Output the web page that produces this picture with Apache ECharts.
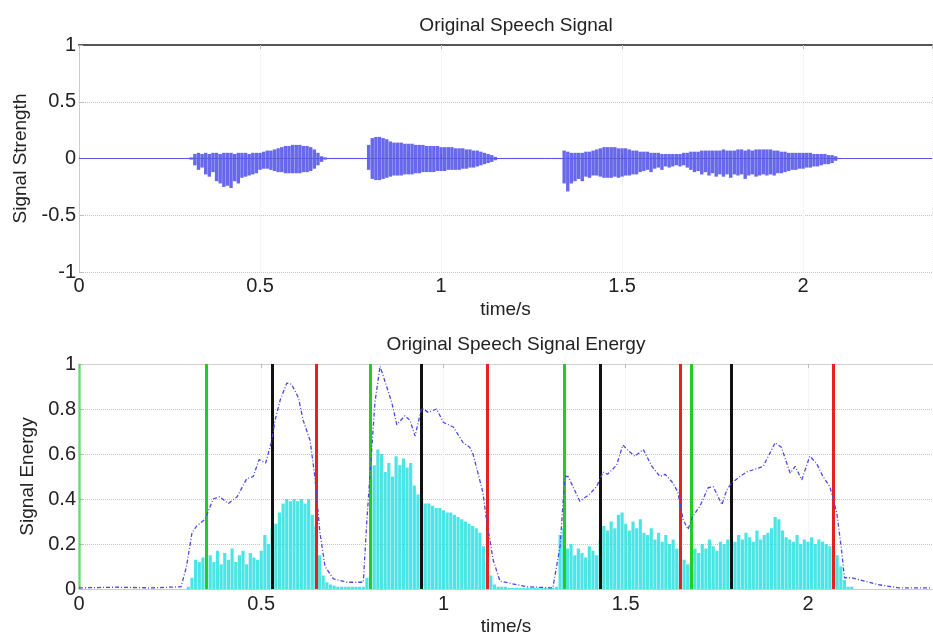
<!DOCTYPE html>
<html>
<head>
<meta charset="utf-8">
<script src="https://cdn.jsdelivr.net/npm/echarts@6/dist/echarts.min.js"></script>
<style>html,body{margin:0;padding:0;background:#fff}#c{width:933px;height:637px}</style>
</head>
<body>
<div id="c"></div>
<script>
// ---- Top chart: speech waveform envelope (sampled every 0.01 s starting at 0.30 s) ----
const sigStart = 0.30;
const sigStep = 0.01;
const sigHi = [
  .005,.01,.04,.05,.04,.05,.04,.05,.05,.04,
  .05,.05,.05,.04,.05,.05,.05,.04,.05,.05,
  .05,.06,.07,.07,.08,.09,.10,.11,.11,.12,
  .12,.12,.11,.11,.10,.08,.05,.02,.01,.005,
  .005,.005,.005,.005,.005,.005,.005,.005,.005,.005,
  .12,.18,.19,.19,.18,.17,.15,.14,.14,.14,
  .13,.13,.13,.12,.12,.12,.11,.11,.11,.11,
  .10,.10,.10,.10,.09,.09,.09,.08,.08,.07,
  .07,.06,.05,.04,.03,.015,.005,.005,.005,.005,
  .005,.005,.005,.005,.005,.005,.005,.005,.005,.005,
  .005,.005,.005,.005,.07,.06,.05,.05,.05,.05,
  .06,.06,.07,.08,.09,.10,.10,.10,.10,.09,
  .09,.09,.08,.07,.07,.06,.06,.06,.05,.05,
  .05,.04,.04,.04,.04,.04,.04,.05,.05,.06,
  .06,.06,.07,.07,.07,.07,.07,.07,.08,.07,
  .07,.07,.08,.08,.07,.08,.07,.08,.08,.08,
  .08,.08,.07,.07,.06,.06,.05,.05,.05,.05,
  .05,.05,.05,.04,.04,.04,.04,.03,.03,.02,
  .005
];
const sigLo = [
  -.005,-.01,-.06,-.10,-.08,-.14,-.16,-.12,-.20,-.22,
  -.25,-.24,-.26,-.20,-.22,-.17,-.16,-.15,-.14,-.13,
  -.10,-.09,-.09,-.10,-.11,-.12,-.12,-.13,-.13,-.13,
  -.13,-.13,-.12,-.12,-.11,-.09,-.06,-.03,-.01,-.005,
  -.005,-.005,-.005,-.005,-.005,-.005,-.005,-.005,-.005,-.005,
  -.10,-.18,-.19,-.19,-.18,-.17,-.16,-.15,-.15,-.15,
  -.14,-.14,-.14,-.13,-.13,-.12,-.12,-.12,-.12,-.11,
  -.11,-.11,-.10,-.10,-.10,-.10,-.09,-.09,-.08,-.08,
  -.07,-.06,-.05,-.04,-.03,-.015,-.005,-.005,-.005,-.005,
  -.005,-.005,-.005,-.005,-.005,-.005,-.005,-.005,-.005,-.005,
  -.005,-.005,-.005,-.005,-.22,-.29,-.22,-.20,-.18,-.20,
  -.16,-.17,-.15,-.15,-.16,-.17,-.17,-.17,-.16,-.17,
  -.16,-.15,-.15,-.14,-.14,-.12,-.11,-.10,-.12,-.09,
  -.08,-.10,-.07,-.08,-.07,-.06,-.07,-.06,-.08,-.10,
  -.12,-.11,-.14,-.12,-.15,-.13,-.16,-.14,-.16,-.14,
  -.17,-.14,-.15,-.14,-.18,-.15,-.14,-.16,-.15,-.14,
  -.15,-.14,-.15,-.13,-.13,-.12,-.11,-.10,-.10,-.09,
  -.09,-.08,-.08,-.07,-.07,-.06,-.05,-.05,-.04,-.02,
  -.005
];

// ---- Bottom chart: short-time energy (cyan bars, every 0.01 s from 0.30 s) ----
const engStart = 0.30;
const engStep = 0.01;
const engBars = [
  .01,.05,.13,.12,.14,.10,.15,.12,.17,.11,
  .16,.13,.18,.12,.15,.17,.11,.16,.14,.13,
  .17,.24,.20,.27,.29,.34,.38,.40,.39,.40,
  .39,.40,.38,.40,.33,.28,.15,.06,.03,.02,
  .015,.01,.01,.01,.01,.01,.01,.01,.01,.05,
  .50,.55,.62,.60,.52,.56,.50,.59,.55,.58,
  .54,.56,.46,.42,.39,.38,.38,.37,.36,.36,
  .35,.34,.34,.33,.32,.31,.30,.29,.28,.27,
  .25,.19,.12,.06,.02,.01,.01,.01,.005,.005,
  .005,.005,.005,.005,.005,.005,.005,.005,.005,.005,
  .005,.01,.24,.27,.18,.20,.15,.18,.16,.14,
  .19,.17,.15,.22,.28,.26,.30,.27,.33,.34,
  .29,.26,.30,.27,.31,.25,.24,.27,.22,.25,
  .21,.24,.20,.22,.18,.12,.13,.11,.12,.18,
  .16,.20,.18,.22,.19,.17,.21,.20,.22,.24,
  .21,.24,.22,.25,.23,.21,.26,.22,.24,.25,
  .27,.32,.31,.26,.23,.22,.21,.24,.20,.22,
  .21,.23,.20,.22,.21,.20,.19,.18,.15,.10,
  .04,.01,.01
];

// Smoothed energy contour (dash-dot blue line)
const contourT = [0,0.1,0.2,0.28,0.295,0.31,0.323,0.346,0.368,0.386,0.41,0.434,0.46,0.478,0.494,0.512,0.529,0.538,0.552,0.57,0.583,0.602,0.615,0.634,0.647,0.661,0.675,0.698,0.735,0.78,0.79,0.798,0.812,0.826,0.844,0.858,0.872,0.894,0.908,0.922,0.94,0.958,0.981,1.0,1.027,1.054,1.072,1.081,1.108,1.117,1.136,1.155,1.228,1.30,1.32,1.333,1.342,1.374,1.4,1.42,1.438,1.45,1.475,1.492,1.507,1.525,1.548,1.572,1.594,1.608,1.63,1.643,1.657,1.671,1.683,1.704,1.726,1.74,1.764,1.777,1.79,1.813,1.832,1.85,1.877,1.896,1.91,1.927,1.951,1.965,1.983,2.005,2.023,2.041,2.06,2.079,2.093,2.1,2.12,2.19,2.25,2.34];
const contourV = [0.005,0.008,0.005,0.01,0.1,0.25,0.28,0.31,0.40,0.41,0.38,0.41,0.49,0.50,0.575,0.56,0.66,0.75,0.84,0.915,0.91,0.85,0.75,0.66,0.50,0.25,0.10,0.045,0.03,0.03,0.31,0.5,0.83,0.99,0.9,0.83,0.73,0.77,0.75,0.68,0.805,0.785,0.80,0.74,0.72,0.65,0.63,0.6,0.43,0.32,0.13,0.035,0.01,0.005,0.19,0.50,0.5,0.39,0.42,0.455,0.52,0.51,0.55,0.64,0.615,0.59,0.62,0.545,0.50,0.51,0.47,0.43,0.31,0.265,0.32,0.37,0.45,0.455,0.375,0.44,0.47,0.50,0.52,0.53,0.545,0.605,0.65,0.63,0.515,0.545,0.485,0.59,0.56,0.50,0.455,0.34,0.16,0.05,0.05,0.02,0.005,0.005];

// Endpoint detection markers (time in s)
const greenT = [0.003, 0.348, 0.798, 1.331, 1.679];
const blackT = [0.530, 0.938, 1.429, 1.789];
const redT = [0.645, 1.118, 1.645, 2.066];

const FONT = '"Liberation Sans", Arial, Helvetica, sans-serif';
const r3 = v => Math.round(v * 1000) / 1000;

const sigData = sigHi.map((h, i) => [r3(sigStart + i * sigStep), h, sigLo[i]]);
const engData = engBars.map((v, i) => [r3(engStart + i * engStep), v]);
const contourData = contourT.map((t, i) => [t, contourV[i]]);

function xAxisCfg(gridIndex, max, labelMargin) {
  return {
    type: 'value', gridIndex, min: 0, max, interval: 0.5,
    name: 'time/s', nameLocation: 'middle', nameGap: 28,
    nameTextStyle: { fontSize: 19, color: '#222', fontFamily: FONT },
    axisLine: { show: true, lineStyle: { color: '#cccccc', width: 1 } },
    axisTick: { show: true, inside: true, length: 4, lineStyle: { color: '#bbb' } },
    axisLabel: { fontSize: 20, color: '#222', fontFamily: FONT, margin: labelMargin, showMaxLabel: false },
    splitLine: { show: true, lineStyle: { color: '#ececec', type: 'dotted' } }
  };
}
function topBorder(gridIndex, max, color, width) {
  return {
    type: 'value', gridIndex, min: 0, max, interval: 0.5, position: 'top',
    axisLine: { show: true, lineStyle: { color, width } },
    axisTick: { show: true, inside: true, length: 4, lineStyle: { color: '#bbb' } },
    axisLabel: { show: false }, splitLine: { show: false }
  };
}
function yAxisCfg(gridIndex, min, max, interval, name) {
  return {
    type: 'value', gridIndex, min, max, interval,
    name, nameLocation: 'middle', nameGap: 39,
    nameTextStyle: { fontSize: 19, color: '#222', fontFamily: FONT },
    axisLine: { show: true, lineStyle: { color: '#cccccc' } },
    axisTick: { show: true, inside: true, length: 4, lineStyle: { color: '#bbb' } },
    axisLabel: { fontSize: 20, color: '#222', fontFamily: FONT, margin: 3 },
    splitLine: { show: true, lineStyle: { color: '#c4c4c4', type: 'dotted' } }
  };
}

const vLines = [].concat(
  greenT.map((x, i) => ({ xAxis: x, lineStyle: { color: '#22cc22', width: 3, type: 'solid', opacity: i === 0 ? 0.45 : 1 } })),
  blackT.map(x => ({ xAxis: x, lineStyle: { color: '#111111', width: 3, type: 'solid' } })),
  redT.map(x => ({ xAxis: x, lineStyle: { color: '#e82020', width: 3, type: 'solid' } }))
);

const chart = echarts.init(document.getElementById('c'), null, { renderer: 'canvas' });
chart.setOption({
  animation: false,
  backgroundColor: '#fff',
  textStyle: { fontFamily: FONT },
  title: [
    { text: 'Original Speech Signal', left: 511, top: 11, textAlign: 'center',
      textStyle: { fontSize: 19, fontWeight: 'normal', color: '#222', fontFamily: FONT } },
    { text: 'Original Speech Signal Energy', left: 511, top: 330, textAlign: 'center',
      textStyle: { fontSize: 19, fontWeight: 'normal', color: '#222', fontFamily: FONT } }
  ],
  grid: [
    { left: 79, right: 1, top: 45, height: 227 },
    { left: 79, right: 0, top: 364, height: 226 }
  ],
  xAxis: [
    xAxisCfg(0, 2.356, 4),
    xAxisCfg(1, 2.343, 5),
    topBorder(0, 2.356, '#555', 2),
    topBorder(1, 2.343, '#d0d0d0', 1)
  ],
  yAxis: [
    yAxisCfg(0, -1, 1, 0.5, 'Signal Strength'),
    yAxisCfg(1, 0, 1, 0.2, 'Signal Energy')
  ],
  series: [
    {
      type: 'custom', xAxisIndex: 0, yAxisIndex: 0, data: sigData,
      encode: { x: 0, y: [1, 2] },
      renderItem: function (params, api) {
        const t = api.value(0);
        const p1 = api.coord([t, api.value(1)]);
        const p2 = api.coord([t, api.value(2)]);
        return {
          type: 'rect',
          shape: { x: p1[0] - 1.7, y: p1[1], width: 3.4, height: Math.max(1, p2[1] - p1[1]) },
          style: { fill: 'rgba(40,40,225,0.7)' }
        };
      },
      markLine: {
        silent: true, symbol: 'none', label: { show: false },
        data: [{ yAxis: 0, lineStyle: { color: '#5a5ae8', width: 1, type: 'solid' } }]
      },
      z: 3
    },
    {
      type: 'bar', xAxisIndex: 1, yAxisIndex: 1, data: engData,
      barWidth: 3.2, itemStyle: { color: '#38e2e2', opacity: 0.9 },
      markLine: { silent: true, symbol: 'none', label: { show: false }, data: vLines },
      z: 2
    },
    {
      type: 'line', xAxisIndex: 1, yAxisIndex: 1, data: contourData,
      showSymbol: false, symbol: 'none',
      lineStyle: { color: '#4a4ae0', width: 1.3, type: [4, 2, 1, 2] },
      z: 5
    }
  ]
});
</script>
</body>
</html>
